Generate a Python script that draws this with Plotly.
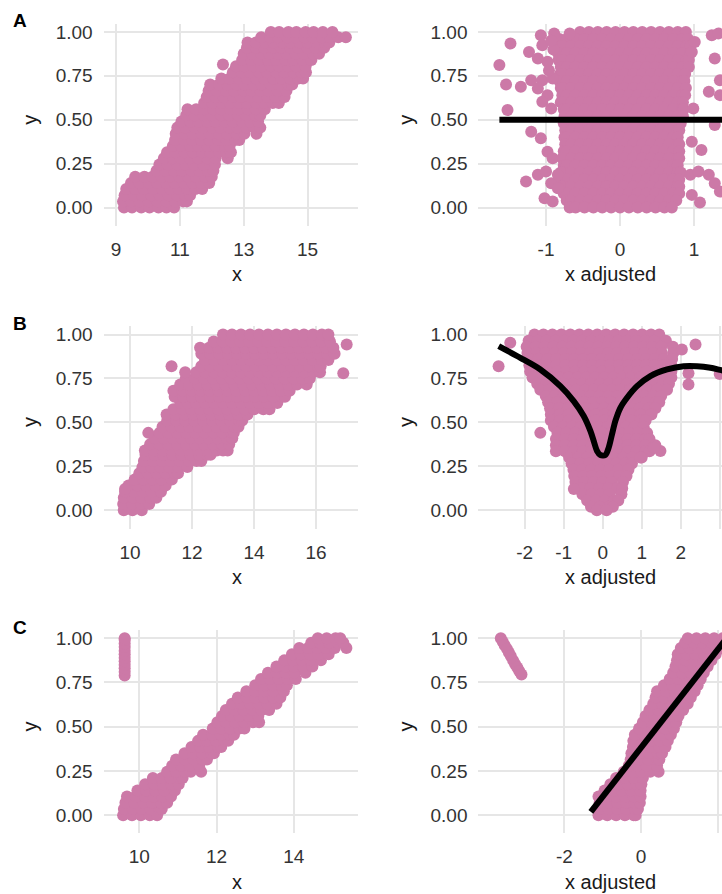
import plotly.graph_objects as go

PINK = "#CC79A7"
FONT = "Liberation Sans, Arial, Helvetica, sans-serif"

# ---------------------------------------------------------------------------
# Data: each cloud is stored as rows (y, [x values...]) plus isolated points.
# ---------------------------------------------------------------------------

# Panel A, raw x
a_raw_rows = [
    (0.000, [9.25, 9.50, 9.79, 10.05, 10.33, 10.58, 10.82]),
    (0.035, [9.22, 9.47, 9.74, 10.02, 10.30, 10.57, 10.85, 11.10, 11.22]),
    (0.070, [9.27, 9.56, 9.82, 10.11, 10.37, 10.65, 10.92, 11.17, 11.32]),
    (0.105, [9.32, 9.60, 9.87, 10.16, 10.44, 10.71, 10.97, 11.24, 11.49, 11.70]),
    (0.140, [9.47, 9.74, 10.03, 10.29, 10.57, 10.84, 11.13, 11.40, 11.67, 11.92]),
    (0.175, [9.60, 9.89, 10.14, 10.43, 10.69, 10.98, 11.26, 11.51, 11.79, 12.00]),
    (0.210, [10.27, 10.54, 10.81, 11.07, 11.36, 11.61, 11.88, 12.05]),
    (0.245, [10.36, 10.62, 10.91, 11.18, 11.44, 11.73, 11.97, 12.10]),
    (0.280, [10.50, 10.78, 11.03, 11.32, 11.57, 11.86, 12.12, 12.50]),
    (0.315, [10.60, 10.86, 11.15, 11.41, 11.70, 11.95, 12.23, 12.47, 12.60]),
    (0.350, [10.78, 11.04, 11.33, 11.58, 11.87, 12.12, 12.41, 12.56]),
    (0.385, [10.85, 11.13, 11.38, 11.67, 11.92, 12.21, 12.46, 12.73, 12.86]),
    (0.420, [10.87, 11.15, 11.40, 11.69, 11.94, 12.23, 12.48, 12.77, 13.02, 13.40]),
    (0.455, [10.92, 11.18, 11.47, 11.72, 12.01, 12.26, 12.55, 12.80, 13.09, 13.32, 13.52]),
    (0.490, [11.05, 11.33, 11.58, 11.87, 12.12, 12.41, 12.66, 12.95, 13.20, 13.45]),
    (0.525, [11.20, 11.46, 11.75, 12.00, 12.29, 12.54, 12.83, 13.08, 13.37, 13.52]),
    (0.560, [11.24, 11.51, 11.76, 12.05, 12.30, 12.59, 12.84, 13.13, 13.38, 13.66]),
    (0.595, [11.76, 12.02, 12.31, 12.56, 12.85, 13.10, 13.39, 13.64, 13.91, 14.10]),
    (0.630, [11.84, 12.12, 12.37, 12.66, 12.91, 13.20, 13.45, 13.74, 13.99, 14.28]),
    (0.665, [11.90, 12.16, 12.45, 12.70, 12.99, 13.24, 13.53, 13.78, 14.07, 14.34]),
    (0.700, [11.95, 12.23, 12.48, 12.77, 13.02, 13.31, 13.56, 13.85, 14.10, 14.39, 14.52]),
    (0.735, [12.30, 12.56, 12.85, 13.10, 13.39, 13.64, 13.93, 14.18, 14.47, 14.71, 14.86]),
    (0.770, [12.66, 12.94, 13.19, 13.48, 13.73, 14.02, 14.27, 14.56, 14.81, 14.95]),
    (0.805, [12.76, 13.02, 13.31, 13.56, 13.85, 14.10, 14.39, 14.64, 14.94]),
    (0.840, [12.95, 13.23, 13.48, 13.77, 14.02, 14.31, 14.56, 14.85, 15.12]),
    (0.875, [13.00, 13.26, 13.55, 13.80, 14.09, 14.34, 14.63, 14.88, 15.17, 15.36]),
    (0.910, [13.10, 13.38, 13.63, 13.92, 14.17, 14.46, 14.71, 15.00, 15.25, 15.52]),
    (0.940, [13.12, 13.38, 13.67, 13.92, 14.21, 14.46, 14.75, 15.00, 15.29, 15.54, 15.68]),
    (0.970, [13.55, 13.83, 14.08, 14.37, 14.62, 14.91, 15.16, 15.45, 15.70, 15.96, 16.20]),
    (1.000, [13.85, 14.11, 14.40, 14.65, 14.94, 15.19, 15.48, 15.78]),
]
a_raw_extra = [(12.35, 0.814)]

# Panel A, adjusted x
a_adj_rows = [
    (1.00, [-0.54, -0.42, -0.30, -0.18, -0.06, 0.06, 0.18, 0.30, 0.42, 0.54, 0.66, 0.78, 0.89]),
    (0.96, [-0.82, -0.72, -0.60, -0.48, -0.36, -0.24, -0.12, 0.00, 0.12, 0.24, 0.36, 0.48, 0.60, 0.72, 0.84, 0.92]),
    (0.92, [-0.86, -0.78, -0.66, -0.54, -0.42, -0.30, -0.18, -0.06, 0.06, 0.18, 0.30, 0.42, 0.54, 0.66, 0.78, 0.90, 0.95]),
    (0.88, [-0.84, -0.72, -0.60, -0.48, -0.36, -0.24, -0.12, 0.00, 0.12, 0.24, 0.36, 0.48, 0.60, 0.72, 0.84, 0.95]),
    (0.84, [-0.83, -0.78, -0.66, -0.54, -0.42, -0.30, -0.18, -0.06, 0.06, 0.18, 0.30, 0.42, 0.54, 0.66, 0.78, 0.90, 0.93]),
    (0.80, [-0.80, -0.72, -0.60, -0.48, -0.36, -0.24, -0.12, 0.00, 0.12, 0.24, 0.36, 0.48, 0.60, 0.72, 0.84, 0.93]),
    (0.76, [-0.81, -0.78, -0.66, -0.54, -0.42, -0.30, -0.18, -0.06, 0.06, 0.18, 0.30, 0.42, 0.54, 0.66, 0.78, 0.88]),
    (0.72, [-0.82, -0.72, -0.60, -0.48, -0.36, -0.24, -0.12, 0.00, 0.12, 0.24, 0.36, 0.48, 0.60, 0.72, 0.84, 0.87]),
    (0.68, [-0.80, -0.78, -0.66, -0.54, -0.42, -0.30, -0.18, -0.06, 0.06, 0.18, 0.30, 0.42, 0.54, 0.66, 0.78, 0.89]),
    (0.64, [-0.78, -0.72, -0.60, -0.48, -0.36, -0.24, -0.12, 0.00, 0.12, 0.24, 0.36, 0.48, 0.60, 0.72, 0.84, 0.88]),
    (0.60, [-0.80, -0.78, -0.66, -0.54, -0.42, -0.30, -0.18, -0.06, 0.06, 0.18, 0.30, 0.42, 0.54, 0.66, 0.78, 0.85]),
    (0.56, [-0.76, -0.72, -0.60, -0.48, -0.36, -0.24, -0.12, 0.00, 0.12, 0.24, 0.36, 0.48, 0.60, 0.72, 0.84, 0.86]),
    (0.52, [-0.75, -0.66, -0.54, -0.42, -0.30, -0.18, -0.06, 0.06, 0.18, 0.30, 0.42, 0.54, 0.66, 0.78, 0.85]),
    (0.48, [-0.76, -0.72, -0.60, -0.48, -0.36, -0.24, -0.12, 0.00, 0.12, 0.24, 0.36, 0.48, 0.60, 0.72, 0.82]),
    (0.44, [-0.74, -0.66, -0.54, -0.42, -0.30, -0.18, -0.06, 0.06, 0.18, 0.30, 0.42, 0.54, 0.66, 0.78, 0.80]),
    (0.40, [-0.75, -0.72, -0.60, -0.48, -0.36, -0.24, -0.12, 0.00, 0.12, 0.24, 0.36, 0.48, 0.60, 0.72, 0.78]),
    (0.36, [-0.74, -0.66, -0.54, -0.42, -0.30, -0.18, -0.06, 0.06, 0.18, 0.30, 0.42, 0.54, 0.66, 0.78, 0.80]),
    (0.32, [-0.76, -0.72, -0.60, -0.48, -0.36, -0.24, -0.12, 0.00, 0.12, 0.24, 0.36, 0.48, 0.60, 0.72, 0.80]),
    (0.28, [-0.78, -0.66, -0.54, -0.42, -0.30, -0.18, -0.06, 0.06, 0.18, 0.30, 0.42, 0.54, 0.66, 0.78, 0.80]),
    (0.24, [-0.76, -0.72, -0.60, -0.48, -0.36, -0.24, -0.12, 0.00, 0.12, 0.24, 0.36, 0.48, 0.60, 0.72, 0.78]),
    (0.20, [-0.80, -0.78, -0.66, -0.54, -0.42, -0.30, -0.18, -0.06, 0.06, 0.18, 0.30, 0.42, 0.54, 0.66, 0.78, 0.82]),
    (0.16, [-0.80, -0.72, -0.60, -0.48, -0.36, -0.24, -0.12, 0.00, 0.12, 0.24, 0.36, 0.48, 0.60, 0.72, 0.80]),
    (0.12, [-0.78, -0.66, -0.54, -0.42, -0.30, -0.18, -0.06, 0.06, 0.18, 0.30, 0.42, 0.54, 0.66, 0.78, 0.80]),
    (0.08, [-0.76, -0.72, -0.60, -0.48, -0.36, -0.24, -0.12, 0.00, 0.12, 0.24, 0.36, 0.48, 0.60, 0.72, 0.80]),
    (0.04, [-0.72, -0.66, -0.54, -0.42, -0.30, -0.18, -0.06, 0.06, 0.18, 0.30, 0.42, 0.54, 0.66, 0.76]),
    (0.00, [-0.68, -0.60, -0.48, -0.36, -0.24, -0.12, 0.00, 0.12, 0.24, 0.36, 0.48, 0.60, 0.70]),
]
a_adj_extra = [
    (-1.63, 0.811), (-1.48, 0.934), (-1.54, 0.701), (-1.52, 0.555), (-1.34, 0.688),
    (-1.23, 0.886), (-1.20, 0.725), (-1.07, 0.981), (-1.05, 0.924), (-1.11, 0.848),
    (-0.98, 0.830), (-0.89, 0.991), (-0.68, 0.991), (-1.05, 0.725), (-1.11, 0.678),
    (-0.98, 0.640), (-1.05, 0.602), (-0.91, 0.735), (-0.93, 0.564), (-1.20, 0.432),
    (-1.07, 0.394), (-0.98, 0.318), (-0.91, 0.280), (-1.27, 0.148), (-1.11, 0.186),
    (-1.00, 0.205), (-1.02, 0.053), (-0.91, 0.034), (-0.93, 0.138), (-0.84, 0.110),
    (-0.84, 0.186), (-0.90, 0.90), (-0.96, 0.78), (-0.93, 0.95),
    (1.01, 0.943), (0.97, 0.886), (1.24, 0.981), (1.33, 0.991), (1.28, 0.848),
    (1.35, 0.725), (1.35, 0.640), (1.20, 0.659), (0.99, 0.564), (1.28, 0.470),
    (0.97, 0.375), (1.10, 0.328), (0.95, 0.186), (1.06, 0.205), (1.20, 0.186),
    (1.28, 0.138), (1.35, 0.091), (1.08, 0.028), (0.97, 0.072),
]
a_fit_x = [-1.63, 4.20]
a_fit_y = [0.50, 0.50]

# Panel B, raw x
b_raw_rows = [
    (0.000, [9.80, 10.08, 10.38]),
    (0.035, [9.78, 10.06, 10.35, 10.62]),
    (0.070, [9.80, 10.09, 10.37, 10.66, 10.85]),
    (0.105, [9.84, 10.12, 10.41, 10.70, 11.00]),
    (0.140, [9.95, 10.24, 10.52, 10.81, 11.15]),
    (0.175, [10.15, 10.43, 10.72, 11.01, 11.35]),
    (0.210, [10.30, 10.58, 10.87, 11.16, 11.45, 11.55]),
    (0.245, [10.40, 10.69, 10.98, 11.27, 11.56, 11.85]),
    (0.280, [10.45, 10.74, 11.03, 11.32, 11.61, 11.90, 12.15, 12.30]),
    (0.315, [10.50, 10.79, 11.08, 11.37, 11.66, 11.95, 12.24, 12.48, 12.60]),
    (0.340, [10.48, 10.77, 11.06, 11.35, 11.64, 11.93, 12.22, 12.51, 12.80, 13.00, 13.15]),
    (0.375, [10.65, 10.94, 11.23, 11.52, 11.81, 12.10, 12.39, 12.68, 12.97, 13.20]),
    (0.410, [10.80, 11.09, 11.38, 11.67, 11.96, 12.25, 12.54, 12.83, 13.12, 13.30]),
    (0.440, [10.59, 10.95, 11.24, 11.53, 11.82, 12.11, 12.40, 12.69, 12.98, 13.27, 13.35]),
    (0.475, [11.05, 11.34, 11.63, 11.92, 12.21, 12.50, 12.79, 13.08, 13.37, 13.50]),
    (0.510, [11.20, 11.49, 11.78, 12.07, 12.36, 12.65, 12.94, 13.23, 13.52, 13.62]),
    (0.545, [11.18, 11.47, 11.76, 12.05, 12.34, 12.63, 12.92, 13.21, 13.50, 13.79]),
    (0.575, [11.40, 11.69, 11.98, 12.27, 12.56, 12.85, 13.14, 13.43, 13.72, 14.01, 14.30, 14.50]),
    (0.610, [11.62, 11.86, 12.13, 12.42, 12.71, 13.00, 13.29, 13.58, 13.87, 14.16, 14.45, 14.75]),
    (0.645, [11.44, 11.71, 12.00, 12.29, 12.58, 12.87, 13.16, 13.45, 13.74, 14.03, 14.32, 14.61, 14.90, 15.00]),
    (0.680, [11.40, 11.69, 11.98, 12.27, 12.56, 12.85, 13.14, 13.43, 13.72, 14.01, 14.30, 14.59, 14.88, 15.15]),
    (0.715, [11.62, 11.91, 12.20, 12.49, 12.78, 13.07, 13.36, 13.65, 13.94, 14.23, 14.52, 14.81, 15.10, 15.39, 15.70]),
    (0.750, [11.80, 12.09, 12.38, 12.67, 12.96, 13.25, 13.54, 13.83, 14.12, 14.41, 14.70, 14.99, 15.28, 15.57, 15.80]),
    (0.785, [11.78, 12.14, 12.43, 12.72, 13.01, 13.30, 13.59, 13.88, 14.17, 14.46, 14.75, 15.04, 15.33, 15.62, 15.91, 16.13]),
    (0.820, [12.30, 12.59, 12.88, 13.17, 13.46, 13.75, 14.04, 14.33, 14.62, 14.91, 15.20, 15.49, 15.78, 16.07, 16.15]),
    (0.855, [12.42, 12.71, 13.00, 13.29, 13.58, 13.87, 14.16, 14.45, 14.74, 15.03, 15.32, 15.61, 15.90, 16.19, 16.40]),
    (0.890, [12.30, 12.59, 12.88, 13.17, 13.46, 13.75, 14.04, 14.33, 14.62, 14.91, 15.20, 15.49, 15.78, 16.07, 16.36, 16.60]),
    (0.925, [12.26, 12.55, 12.84, 13.13, 13.42, 13.71, 14.00, 14.29, 14.58, 14.87, 15.16, 15.45, 15.74, 16.03, 16.32, 16.56]),
    (0.960, [12.70, 12.99, 13.28, 13.57, 13.86, 14.15, 14.44, 14.73, 15.02, 15.31, 15.60, 15.89, 16.18, 16.45]),
    (1.000, [13.00, 13.29, 13.58, 13.87, 14.16, 14.45, 14.74, 15.03, 15.32, 15.61, 15.90, 16.19, 16.40]),
]
b_raw_extra = [(11.34, 0.82), (16.88, 0.78), (16.99, 0.943), (9.84, 0.12)]

# Panel B, adjusted x
b_adj_rows = [
    (1.000, [-1.75, -1.52, -1.29, -1.06, -0.83, -0.60, -0.37, -0.14, 0.09, 0.32, 0.55, 0.78, 1.01, 1.24, 1.45]),
    (0.965, [-1.90, -1.67, -1.44, -1.21, -0.98, -0.75, -0.52, -0.29, -0.06, 0.17, 0.40, 0.63, 0.86, 1.09, 1.32, 1.62]),
    (0.930, [-1.95, -1.72, -1.49, -1.26, -1.03, -0.80, -0.57, -0.34, -0.11, 0.12, 0.35, 0.58, 0.81, 1.04, 1.27, 1.50, 1.80]),
    (0.895, [-1.93, -1.70, -1.47, -1.24, -1.01, -0.78, -0.55, -0.32, -0.09, 0.14, 0.37, 0.60, 0.83, 1.06, 1.29, 1.52, 1.81]),
    (0.860, [-1.88, -1.65, -1.42, -1.19, -0.96, -0.73, -0.50, -0.27, -0.04, 0.19, 0.42, 0.65, 0.88, 1.11, 1.34, 1.57, 1.78]),
    (0.825, [-1.88, -1.65, -1.42, -1.19, -0.96, -0.73, -0.50, -0.27, -0.04, 0.19, 0.42, 0.65, 0.88, 1.11, 1.34, 1.57, 1.76]),
    (0.790, [-1.86, -1.63, -1.40, -1.17, -0.94, -0.71, -0.48, -0.25, -0.02, 0.21, 0.44, 0.67, 0.90, 1.13, 1.36, 1.59, 1.76]),
    (0.755, [-1.80, -1.57, -1.34, -1.11, -0.88, -0.65, -0.42, -0.19, 0.04, 0.27, 0.50, 0.73, 0.96, 1.19, 1.42, 1.65, 1.76]),
    (0.720, [-1.68, -1.45, -1.22, -0.99, -0.76, -0.53, -0.30, -0.07, 0.16, 0.39, 0.62, 0.85, 1.08, 1.31, 1.54, 1.70]),
    (0.685, [-1.60, -1.37, -1.14, -0.91, -0.68, -0.45, -0.22, 0.01, 0.24, 0.47, 0.70, 0.93, 1.16, 1.39, 1.65]),
    (0.650, [-1.46, -1.23, -1.00, -0.77, -0.54, -0.31, -0.08, 0.15, 0.38, 0.61, 0.84, 1.07, 1.30, 1.50]),
    (0.615, [-1.40, -1.17, -0.94, -0.71, -0.48, -0.25, -0.02, 0.21, 0.44, 0.67, 0.90, 1.13, 1.36, 1.45]),
    (0.580, [-1.35, -1.12, -0.89, -0.66, -0.43, -0.20, 0.03, 0.26, 0.49, 0.72, 0.95, 1.18, 1.35]),
    (0.545, [-1.33, -1.10, -0.87, -0.64, -0.41, -0.18, 0.05, 0.28, 0.51, 0.74, 0.97, 1.25]),
    (0.510, [-1.33, -1.10, -0.87, -0.64, -0.41, -0.18, 0.05, 0.28, 0.51, 0.74, 0.97, 1.10]),
    (0.475, [-1.25, -1.02, -0.79, -0.56, -0.33, -0.10, 0.13, 0.36, 0.59, 0.82, 1.05]),
    (0.440, [-1.16, -0.93, -0.70, -0.47, -0.24, -0.01, 0.22, 0.45, 0.68, 0.91, 1.14]),
    (0.405, [-1.20, -0.97, -0.74, -0.51, -0.28, -0.05, 0.18, 0.41, 0.64, 0.87, 1.10, 1.20]),
    (0.370, [-1.20, -0.97, -0.74, -0.51, -0.28, -0.05, 0.18, 0.41, 0.64, 0.87, 1.10, 1.35]),
    (0.335, [-1.20, -0.97, -0.74, -0.51, -0.28, -0.05, 0.18, 0.41, 0.64, 0.87, 1.10, 1.20]),
    (0.300, [-0.86, -0.63, -0.40, -0.17, 0.06, 0.29, 0.52, 0.75, 1.00]),
    (0.265, [-0.80, -0.57, -0.34, -0.11, 0.12, 0.35, 0.58, 0.75]),
    (0.230, [-0.75, -0.52, -0.29, -0.06, 0.17, 0.40, 0.66]),
    (0.195, [-0.73, -0.50, -0.27, -0.04, 0.19, 0.42, 0.61]),
    (0.160, [-0.70, -0.47, -0.24, -0.01, 0.22, 0.52]),
    (0.125, [-0.55, -0.32, -0.09, 0.14, 0.37, 0.50]),
    (0.090, [-0.52, -0.29, -0.06, 0.17, 0.48]),
    (0.055, [-0.40, -0.17, 0.06, 0.29, 0.40]),
    (0.020, [-0.30, -0.07, 0.16, 0.26]),
    (0.000, [-0.15, 0.10]),
]
b_adj_extra = [
    (-2.37, 0.953), (2.38, 0.943), (2.03, 0.915), (-2.67, 0.820), (2.20, 0.780),
    (2.20, 0.716), (-1.60, 0.440), (1.48, 0.337), (1.31, 0.356), (-0.74, 0.120),
    (3.00, 0.775), (0.97, 0.300),
]
b_fit_x = [-2.667, -2.111, -1.598, -1.085, -0.744, -0.487, -0.316, -0.231, -0.145, -0.060,
           0.068, 0.154, 0.239, 0.325, 0.453, 0.624, 0.880, 1.222, 1.650, 2.077, 2.419,
           2.761, 3.043, 3.400]
b_fit_y = [0.934, 0.867, 0.801, 0.706, 0.621, 0.536, 0.451, 0.394, 0.337, 0.314,
           0.314, 0.356, 0.432, 0.508, 0.583, 0.640, 0.706, 0.763, 0.801, 0.820, 0.820,
           0.811, 0.797, 0.780]

# Panel C, raw x
c_raw_rows = [
    (0.000, [9.58, 9.81, 10.04, 10.27, 10.46]),
    (0.035, [9.60, 9.83, 10.06, 10.29, 10.52, 10.58]),
    (0.070, [9.64, 9.87, 10.10, 10.33, 10.56, 10.72]),
    (0.105, [9.68, 9.91, 10.14, 10.37, 10.60, 10.82]),
    (0.140, [9.95, 10.18, 10.41, 10.64, 10.92]),
    (0.175, [10.15, 10.38, 10.61, 10.84, 11.02]),
    (0.210, [10.35, 10.58, 10.81, 11.04, 11.12]),
    (0.245, [10.72, 10.95, 11.18, 11.33, 11.60]),
    (0.280, [10.85, 11.08, 11.31, 11.55]),
    (0.315, [10.95, 11.18, 11.41, 11.64, 11.75]),
    (0.350, [11.17, 11.40, 11.63, 11.86, 11.93]),
    (0.385, [11.35, 11.58, 11.81, 12.04, 12.12]),
    (0.420, [11.52, 11.75, 11.98, 12.21, 12.30]),
    (0.455, [11.65, 11.88, 12.11, 12.34, 12.45]),
    (0.490, [11.90, 12.13, 12.36, 12.59, 12.72]),
    (0.525, [12.02, 12.25, 12.48, 12.71, 12.94, 13.10]),
    (0.560, [12.14, 12.37, 12.60, 12.83, 13.08]),
    (0.595, [12.24, 12.47, 12.70, 12.93, 13.16, 13.36]),
    (0.630, [12.40, 12.63, 12.86, 13.09, 13.32, 13.55]),
    (0.665, [12.55, 12.78, 13.01, 13.24, 13.47, 13.65]),
    (0.700, [12.77, 13.00, 13.23, 13.46, 13.74]),
    (0.735, [13.00, 13.23, 13.46, 13.69, 13.82]),
    (0.770, [13.15, 13.38, 13.61, 13.84, 14.05]),
    (0.805, [13.33, 13.56, 13.79, 14.02, 14.30]),
    (0.840, [13.55, 13.78, 14.01, 14.24, 14.48]),
    (0.875, [13.75, 13.98, 14.21, 14.44, 14.70]),
    (0.910, [13.95, 14.18, 14.41, 14.64, 14.90]),
    (0.945, [14.14, 14.37, 14.60, 14.83, 15.06, 15.36]),
    (0.975, [14.45, 14.68, 14.91, 15.14, 15.28]),
    (1.000, [14.62, 14.85, 15.08, 15.20]),
]
c_raw_extra = [
    (9.62, 0.79), (9.62, 0.81), (9.62, 0.83), (9.62, 0.85), (9.62, 0.87), (9.62, 0.89),
    (9.62, 0.91), (9.62, 0.93), (9.62, 0.95), (9.62, 0.97), (9.62, 0.99), (9.62, 1.00),
]

# Panel C, adjusted x
c_adj_rows = [
    (0.000, [-1.11, -0.88, -0.65, -0.42, -0.19, -0.14]),
    (0.035, [-1.08, -0.85, -0.62, -0.39, -0.16, -0.08]),
    (0.070, [-1.08, -0.85, -0.62, -0.39, -0.16, -0.03]),
    (0.105, [-1.11, -0.88, -0.65, -0.42, -0.19, -0.01]),
    (0.140, [-0.95, -0.72, -0.49, -0.26, -0.01]),
    (0.175, [-0.80, -0.57, -0.34, -0.11, 0.01]),
    (0.210, [-0.65, -0.42, -0.19, 0.05]),
    (0.245, [-0.45, -0.22, 0.01, 0.24, 0.46]),
    (0.280, [-0.32, -0.09, 0.14, 0.42]),
    (0.315, [-0.27, -0.04, 0.19, 0.42, 0.48]),
    (0.350, [-0.25, -0.02, 0.21, 0.44, 0.55]),
    (0.385, [-0.21, 0.02, 0.25, 0.48, 0.64]),
    (0.420, [-0.20, 0.03, 0.26, 0.49, 0.70]),
    (0.455, [-0.16, 0.07, 0.30, 0.53, 0.78]),
    (0.490, [-0.05, 0.18, 0.41, 0.64, 0.86]),
    (0.525, [0.05, 0.28, 0.51, 0.74, 0.92]),
    (0.560, [0.12, 0.35, 0.58, 0.81, 0.98]),
    (0.595, [0.22, 0.45, 0.68, 0.91, 1.10]),
    (0.630, [0.32, 0.55, 0.78, 1.01, 1.22]),
    (0.665, [0.38, 0.61, 0.84, 1.07, 1.30]),
    (0.700, [0.42, 0.65, 0.88, 1.11, 1.40]),
    (0.735, [0.60, 0.83, 1.06, 1.29, 1.48]),
    (0.770, [0.75, 0.98, 1.21, 1.44, 1.56]),
    (0.805, [0.84, 1.07, 1.30, 1.53, 1.64]),
    (0.840, [0.90, 1.13, 1.36, 1.59, 1.74]),
    (0.875, [0.94, 1.17, 1.40, 1.63, 1.84]),
    (0.910, [0.96, 1.19, 1.42, 1.65, 1.88, 1.95]),
    (0.945, [1.04, 1.27, 1.50, 1.73, 1.96, 2.10]),
    (0.975, [1.15, 1.38, 1.61, 1.84, 2.07, 2.20]),
    (1.000, [1.22, 1.45, 1.68, 1.91, 2.14, 2.20]),
]
c_adj_extra = [
    (-3.66, 1.000), (-3.61, 0.980), (-3.56, 0.960), (-3.50, 0.940), (-3.45, 0.920),
    (-3.40, 0.900), (-3.34, 0.875), (-3.29, 0.855), (-3.23, 0.835), (-3.18, 0.815),
    (-3.12, 0.795),
]
c_fit_x = [-1.31, 2.30]
c_fit_y = [0.019, 1.018]

y_tick_vals = [0.0, 0.25, 0.5, 0.75, 1.0]
y_tick_text = ["0.00", "0.25", "0.50", "0.75", "1.00"]


def unpack(rows, extra):
    xs, ys = [], []
    for yv, xvals in rows:
        xs.extend(xvals)
        ys.extend([yv] * len(xvals))
    for xv, yv in extra:
        xs.append(xv)
        ys.append(yv)
    return xs, ys


# ---------------------------------------------------------------------------
# Layout geometry (figure is 722 x 894 px)
# ---------------------------------------------------------------------------
W, H = 722, 894
col_dom = [[103.5 / W, 358 / W], [478.3 / W, 1.0]]
row_dom = [
    [1 - 225 / H, 1 - 21.7 / H],
    [1 - 528 / H, 1 - 325 / H],
    [1 - 833 / H, 1 - 629 / H],
]
row_yrange = [[-0.108, 1.047], [-0.1063, 1.047], [-0.1015, 1.049]]

panels = [
    dict(rows=a_raw_rows, extra=a_raw_extra, r=0, c=0, xr=[8.608, 16.58], xt=[9, 11, 13, 15],
         xlab="x", fit=None),
    dict(rows=a_adj_rows, extra=a_adj_extra, r=0, c=1, xr=[-1.915, 1.378], xt=[-1, 0, 1],
         xlab="x adjusted", fit=(a_fit_x, a_fit_y)),
    dict(rows=b_raw_rows, extra=b_raw_extra, r=1, c=0, xr=[9.145, 17.355], xt=[10, 12, 14, 16],
         xlab="x", fit=None),
    dict(rows=b_adj_rows, extra=b_adj_extra, r=1, c=1, xr=[-3.19, 3.059], xt=[-2, -1, 0, 1, 2, 3],
         xlab="x adjusted", fit=(b_fit_x, b_fit_y)),
    dict(rows=c_raw_rows, extra=c_raw_extra, r=2, c=0, xr=[9.072, 15.66], xt=[10, 12, 14],
         xlab="x", fit=None),
    dict(rows=c_adj_rows, extra=c_adj_extra, r=2, c=1, xr=[-4.248, 2.115], xt=[-2, 0, 2],
         xlab="x adjusted", fit=(c_fit_x, c_fit_y)),
]

fig = go.Figure()
layout = dict(
    width=W, height=H,
    margin=dict(l=0, r=0, t=0, b=0),
    paper_bgcolor="white", plot_bgcolor="white",
    showlegend=False,
    font=dict(family=FONT, color="#1a1a1a"),
)
annotations = []
axis_common = dict(
    showgrid=True, gridcolor="#E6E6E6", gridwidth=2,
    zeroline=False, showline=False,
    ticks="outside", ticklen=6, tickcolor="rgba(0,0,0,0)",
    tickfont=dict(family=FONT, size=19, color="#333333"),
    fixedrange=True,
)

row_title_y = [273, 576, 882]
row_letter_y = [19, 322, 627]
row_mid_y = [118, 421, 726]
col_ylab_x = [30, 406]
col_xlab_x = [236.7, 610]

for i, p in enumerate(panels):
    n = i + 1
    xs, ys = unpack(p["rows"], p["extra"])
    xa = f"x{n}" if n > 1 else "x"
    ya = f"y{n}" if n > 1 else "y"
    fig.add_trace(go.Scatter(
        x=xs, y=ys, mode="markers", xaxis=xa, yaxis=ya,
        marker=dict(color=PINK, size=12, line=dict(width=0)),
        hoverinfo="skip",
    ))
    if p["fit"] is not None:
        fx, fy = p["fit"]
        fig.add_trace(go.Scatter(
            x=fx, y=fy, mode="lines", xaxis=xa, yaxis=ya,
            line=dict(color="black", width=6, shape="spline", smoothing=0.8),
            hoverinfo="skip",
        ))
    key = "" if n == 1 else str(n)
    layout[f"xaxis{key}"] = dict(
        axis_common, domain=col_dom[p["c"]], range=p["xr"], anchor=ya,
        tickvals=p["xt"], ticktext=[str(v) for v in p["xt"]],
    )
    layout[f"yaxis{key}"] = dict(
        axis_common, domain=row_dom[p["r"]], range=row_yrange[p["r"]], anchor=xa,
        tickvals=y_tick_vals, ticktext=y_tick_text,
    )
    # axis titles
    annotations.append(dict(
        text=p["xlab"], xref="paper", yref="paper",
        x=col_xlab_x[p["c"]] / W, y=1 - row_title_y[p["r"]] / H,
        xanchor="center", yanchor="middle", showarrow=False,
        font=dict(family=FONT, size=20, color="#1a1a1a"),
    ))
    annotations.append(dict(
        text="y", xref="paper", yref="paper",
        x=col_ylab_x[p["c"]] / W, y=1 - row_mid_y[p["r"]] / H,
        xanchor="center", yanchor="middle", showarrow=False, textangle=-90,
        font=dict(family=FONT, size=20, color="#1a1a1a"),
    ))

for letter, ly in zip(["A", "B", "C"], row_letter_y):
    annotations.append(dict(
        text=f"<b>{letter}</b>", xref="paper", yref="paper",
        x=20 / W, y=1 - ly / H, xanchor="center", yanchor="middle", showarrow=False,
        font=dict(family=FONT, size=19, color="black"),
    ))

layout["annotations"] = annotations
fig.update_layout(**layout)
fig.write_html("out.html")
